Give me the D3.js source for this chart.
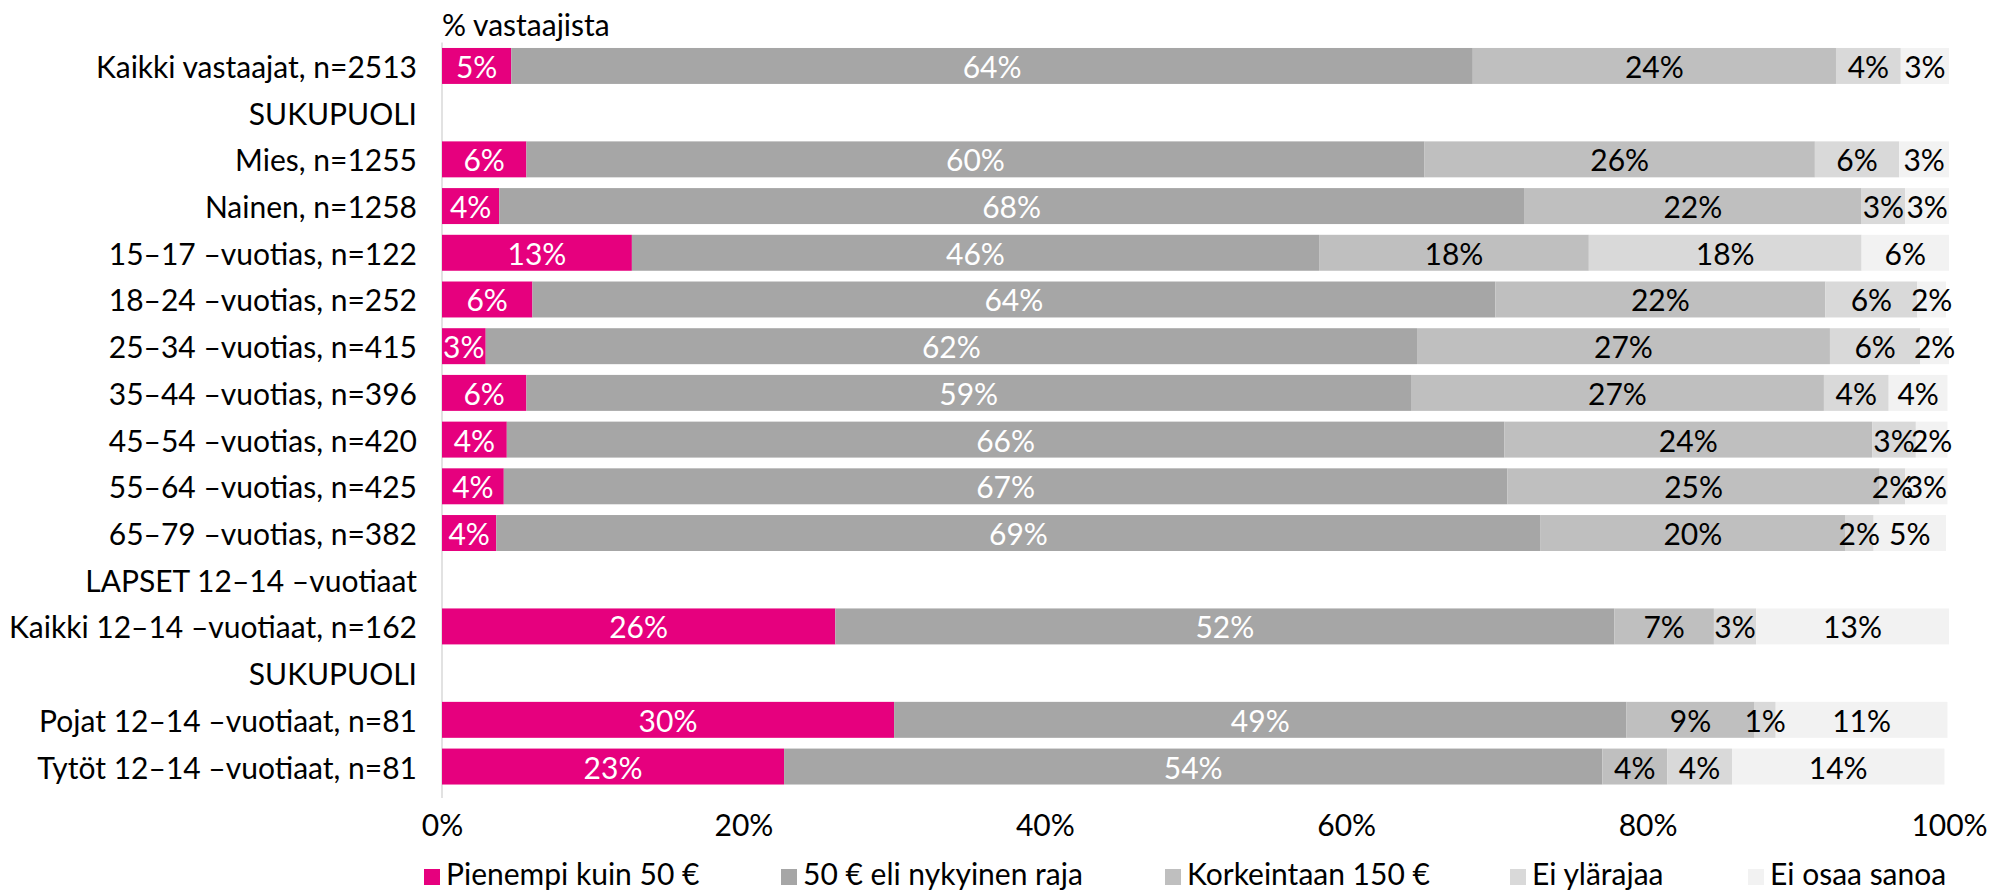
<!DOCTYPE html>
<html>
<head>
<meta charset="utf-8">
<script src="https://cdn.jsdelivr.net/npm/d3@7"></script>
<style>
  body { margin: 0; background: #fff; }
  svg text { font-family: Lato, "Noto Sans", sans-serif; }
</style>
</head>
<body>
<svg id="chart" width="1991" height="892"></svg>
<script>
// rows top to bottom, null = header row without bar
const categories = [
  "Kaikki vastaajat, n=2513",
  "SUKUPUOLI",
  "Mies, n=1255",
  "Nainen, n=1258",
  "15–17 –vuotias, n=122",
  "18–24 –vuotias, n=252",
  "25–34 –vuotias, n=415",
  "35–44 –vuotias, n=396",
  "45–54 –vuotias, n=420",
  "55–64 –vuotias, n=425",
  "65–79 –vuotias, n=382",
  "LAPSET 12–14 –vuotiaat",
  "Kaikki 12–14 –vuotiaat, n=162",
  "SUKUPUOLI",
  "Pojat 12–14 –vuotiaat, n=81",
  "Tytöt 12–14 –vuotiaat, n=81"
];

const seriesNames = ["Pienempi kuin 50 €", "50 € eli nykyinen raja", "Korkeintaan 150 €", "Ei ylärajaa", "Ei osaa sanoa"];
const colors = ["#e6007e", "#a6a6a6", "#bfbfbf", "#d9d9d9", "#f2f2f2"];
const labelColors = ["#fff", "#fff", "#000", "#000", "#000"];

const pienempi = [4.6, null, 5.6, 3.8, 12.6, 6.0, 2.9, 5.6, 4.3, 4.1, 3.6, null, 26.1, null, 30.0, 22.7];
const nykyinen = [63.8, null, 59.6, 68.0, 45.6, 63.9, 61.8, 58.7, 66.2, 66.6, 69.3, null, 51.7, null, 48.6, 54.3];
const korkeintaan = [24.1, null, 25.9, 22.4, 17.9, 21.9, 27.4, 27.4, 24.4, 24.7, 20.2, null, 6.6, null, 8.5, 4.3];
const eiYlarajaa = [4.3, null, 5.6, 2.9, 18.1, 6.1, 6.0, 4.3, 2.9, 1.7, 1.9, null, 2.8, null, 1.4, 4.3];
const eiOsaa = [3.2, null, 3.3, 2.9, 5.8, 1.9, 1.9, 3.9, 2.1, 2.8, 4.8, null, 12.8, null, 11.4, 14.1];

const xTicks = [0, 20, 40, 60, 80, 100];

const series = [pienempi, nykyinen, korkeintaan, eiYlarajaa, eiOsaa];

const svg = d3.select("#chart");
const fontSize = 30;

const x = d3.scaleLinear().domain([0, 100]).range([442, 1949]);
const y = d3.scaleBand()
    .domain(d3.range(categories.length))
    .range([42.6, 789.9])
    .paddingInner(0.23)
    .paddingOuter(0.115);

// build stacked segments
const rows = categories.map((c, i) => {
  let acc = 0;
  const segs = [];
  series.forEach((s, k) => {
    if (s[i] == null) return;
    segs.push({ row: i, k: k, x0: acc, x1: acc + s[i], v: s[i] });
    acc += s[i];
  });
  return segs;
});
const segments = rows.flat();

// axis line
svg.append("line")
    .attr("x1", x(0)).attr("x2", x(0))
    .attr("y1", y.range()[0]).attr("y2", y.range()[1] + 8)
    .attr("stroke", "#d9d9d9")
    .attr("stroke-width", 1.5);

svg.append("g").selectAll("rect")
  .data(segments)
  .join("rect")
    .attr("x", d => x(d.x0))
    .attr("y", d => y(d.row))
    .attr("width", d => x(d.x1) - x(d.x0))
    .attr("height", y.bandwidth())
    .attr("fill", d => colors[d.k]);

svg.append("g").selectAll("text")
  .data(segments)
  .join("text")
    .attr("x", d => (x(d.x0) + x(d.x1)) / 2)
    .attr("y", d => y(d.row) + y.bandwidth() / 2)
    .attr("text-anchor", "middle")
    .attr("dominant-baseline", "central")
    .attr("font-size", fontSize)
    .attr("fill", d => labelColors[d.k])
    .text(d => Math.round(d.v) + "%");

// category labels
svg.append("g").selectAll("text")
  .data(categories)
  .join("text")
    .attr("x", 417)
    .attr("y", (d, i) => y(i) + y.bandwidth() / 2)
    .attr("text-anchor", "end")
    .attr("dominant-baseline", "central")
    .attr("font-size", fontSize)
    .attr("fill", "#000")
    .text(d => d);

// x axis labels
const xAxis = d3.axisBottom(x)
    .tickValues(xTicks)
    .tickFormat(d => d + "%")
    .tickSize(0)
    .tickPadding(0);

const gx = svg.append("g")
    .attr("transform", `translate(0, 815)`)
    .call(xAxis);
gx.select(".domain").remove();
gx.selectAll("text")
    .attr("font-size", fontSize)
    .attr("font-family", "Lato, 'Noto Sans', sans-serif")
    .attr("fill", "#000");

svg.append("text")
    .attr("x", x(0))
    .attr("y", 24)
    .attr("dominant-baseline", "central")
    .attr("font-size", fontSize)
    .text("% vastaajista");

// legend
const legendX = [424, 781, 1165, 1510, 1748];
const legend = svg.append("g").selectAll("g")
  .data(seriesNames)
  .join("g")
    .attr("transform", (d, i) => `translate(${legendX[i]}, 885)`);
legend.append("rect")
    .attr("x", 0).attr("y", -16)
    .attr("width", 16).attr("height", 16)
    .attr("fill", (d, i) => colors[i]);
legend.append("text")
    .attr("x", 22)
    .attr("font-size", fontSize)
    .text(d => d);
</script>
</body>
</html>
